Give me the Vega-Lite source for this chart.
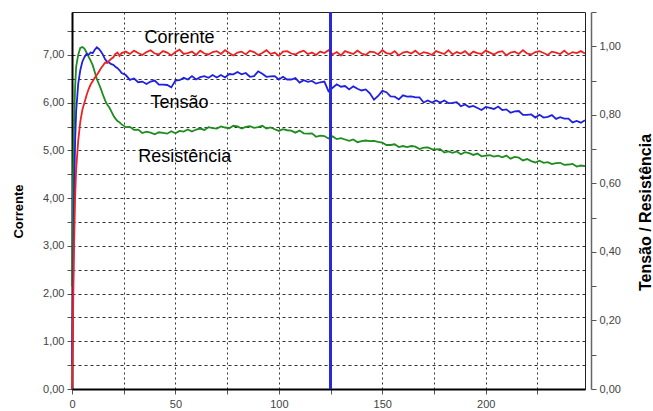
{
  "$schema": "https://vega.github.io/schema/vega-lite/v6.json",
  "width": 513,
  "height": 377,
  "autosize": {"type": "none"},
  "padding": {"left": 72, "top": 12, "right": 68, "bottom": 22},
  "background": "white",
  "config": {
    "view": {"stroke": "#222", "strokeWidth": 1},
    "axis": {"labelFont": "Liberation Sans", "labelFontSize": 11, "labelColor": "#444", "tickColor": "#555", "tickSize": 5, "titleFont": "Liberation Sans", "titleFontWeight": "bold", "titleColor": "#000"}
  },
  "data": {"values": [
    {"x":0,"corrente":0.0,"tensao":0.07,"resistencia":0.30},
    {"x":0.5,"corrente":1.6,"tensao":0.30,"resistencia":0.62},
    {"x":1,"corrente":3.0,"tensao":0.56,"resistencia":0.78},
    {"x":1.5,"corrente":4.0,"tensao":0.72,"resistencia":0.88},
    {"x":2,"corrente":4.6,"tensao":0.81,"resistencia":0.94},
    {"x":3,"corrente":5.2,"tensao":0.89,"resistencia":0.975},
    {"x":4,"corrente":5.6,"tensao":0.93,"resistencia":0.995},
    {"x":5,"corrente":5.85,"tensao":0.955,"resistencia":0.998},
    {"x":6,"corrente":6.0,"tensao":0.968,"resistencia":0.993},
    {"x":7,"corrente":6.15,"tensao":0.978,"resistencia":0.982},
    {"x":8,"corrente":6.28,"tensao":0.975,"resistencia":0.970},
    {"x":9,"corrente":6.38,"tensao":0.982,"resistencia":0.958},
    {"x":10,"corrente":6.45,"tensao":0.980,"resistencia":0.945},
    {"x":11,"corrente":6.52,"tensao":0.990,"resistencia":0.925},
    {"x":12,"corrente":6.58,"tensao":0.997,"resistencia":0.905},
    {"x":13,"corrente":6.65,"tensao":0.992,"resistencia":0.890},
    {"x":14,"corrente":6.72,"tensao":0.985,"resistencia":0.875},
    {"x":15,"corrente":6.78,"tensao":0.975,"resistencia":0.858},
    {"x":16,"corrente":6.84,"tensao":0.962,"resistencia":0.842},
    {"x":17,"corrente":6.83,"tensao":0.955,"resistencia":0.830},
    {"x":18,"corrente":6.88,"tensao":0.952,"resistencia":0.822},
    {"x":19,"corrente":6.92,"tensao":0.948,"resistencia":0.810},
    {"x":20,"corrente":6.95,"tensao":0.946,"resistencia":0.798},
    {"x":21,"corrente":7.02,"tensao":0.940,"resistencia":0.789},
    {"x":22,"corrente":7.05,"tensao":0.936,"resistencia":0.782},
    {"x":23,"corrente":6.98,"tensao":0.930,"resistencia":0.778},
    {"x":24,"corrente":7.04,"tensao":0.922,"resistencia":0.772},
    {"x":26,"corrente":7.07,"tensao":0.916,"resistencia":0.764},
    {"x":28,"corrente":7.02,"tensao":0.902,"resistencia":0.765},
    {"x":30,"corrente":7.09,"tensao":0.906,"resistencia":0.756},
    {"x":32,"corrente":7.04,"tensao":0.895,"resistencia":0.757},
    {"x":34,"corrente":7.00,"tensao":0.897,"resistencia":0.747},
    {"x":36,"corrente":7.06,"tensao":0.890,"resistencia":0.751},
    {"x":38,"corrente":7.10,"tensao":0.897,"resistencia":0.748},
    {"x":40,"corrente":7.03,"tensao":0.900,"resistencia":0.743},
    {"x":42,"corrente":7.01,"tensao":0.888,"resistencia":0.749},
    {"x":44,"corrente":7.08,"tensao":0.888,"resistencia":0.747},
    {"x":46,"corrente":7.05,"tensao":0.887,"resistencia":0.745},
    {"x":48,"corrente":6.99,"tensao":0.880,"resistencia":0.752},
    {"x":50,"corrente":7.06,"tensao":0.900,"resistencia":0.746},
    {"x":52,"corrente":7.11,"tensao":0.901,"resistencia":0.753},
    {"x":54,"corrente":7.02,"tensao":0.908,"resistencia":0.751},
    {"x":56,"corrente":7.04,"tensao":0.903,"resistencia":0.757},
    {"x":58,"corrente":7.07,"tensao":0.913,"resistencia":0.751},
    {"x":60,"corrente":7.00,"tensao":0.903,"resistencia":0.757},
    {"x":62,"corrente":7.09,"tensao":0.910,"resistencia":0.760},
    {"x":64,"corrente":7.03,"tensao":0.913,"resistencia":0.756},
    {"x":66,"corrente":7.01,"tensao":0.908,"resistencia":0.764},
    {"x":68,"corrente":7.06,"tensao":0.916,"resistencia":0.761},
    {"x":70,"corrente":7.08,"tensao":0.909,"resistencia":0.760},
    {"x":72,"corrente":7.02,"tensao":0.916,"resistencia":0.766},
    {"x":74,"corrente":7.10,"tensao":0.909,"resistencia":0.763},
    {"x":76,"corrente":7.04,"tensao":0.919,"resistencia":0.761},
    {"x":78,"corrente":6.99,"tensao":0.918,"resistencia":0.768},
    {"x":80,"corrente":7.05,"tensao":0.925,"resistencia":0.766},
    {"x":82,"corrente":7.07,"tensao":0.918,"resistencia":0.760},
    {"x":84,"corrente":7.01,"tensao":0.922,"resistencia":0.765},
    {"x":86,"corrente":7.09,"tensao":0.911,"resistencia":0.767},
    {"x":88,"corrente":7.06,"tensao":0.913,"resistencia":0.762},
    {"x":90,"corrente":7.00,"tensao":0.927,"resistencia":0.764},
    {"x":92,"corrente":7.04,"tensao":0.920,"resistencia":0.768},
    {"x":94,"corrente":7.10,"tensao":0.911,"resistencia":0.760},
    {"x":96,"corrente":7.02,"tensao":0.912,"resistencia":0.763},
    {"x":98,"corrente":7.05,"tensao":0.913,"resistencia":0.758},
    {"x":100,"corrente":6.98,"tensao":0.903,"resistencia":0.753},
    {"x":102,"corrente":7.07,"tensao":0.911,"resistencia":0.758},
    {"x":104,"corrente":7.08,"tensao":0.903,"resistencia":0.755},
    {"x":106,"corrente":7.03,"tensao":0.903,"resistencia":0.754},
    {"x":108,"corrente":7.01,"tensao":0.907,"resistencia":0.748},
    {"x":110,"corrente":7.06,"tensao":0.894,"resistencia":0.754},
    {"x":112,"corrente":7.09,"tensao":0.901,"resistencia":0.746},
    {"x":114,"corrente":7.02,"tensao":0.896,"resistencia":0.745},
    {"x":116,"corrente":7.05,"tensao":0.899,"resistencia":0.746},
    {"x":118,"corrente":7.00,"tensao":0.891,"resistencia":0.736},
    {"x":120,"corrente":7.07,"tensao":0.895,"resistencia":0.739},
    {"x":122,"corrente":7.04,"tensao":0.897,"resistencia":0.738},
    {"x":124,"corrente":7.10,"tensao":0.869,"resistencia":0.731},
    {"x":126,"corrente":7.01,"tensao":0.879,"resistencia":0.737},
    {"x":128,"corrente":7.06,"tensao":0.889,"resistencia":0.729},
    {"x":130,"corrente":6.99,"tensao":0.882,"resistencia":0.732},
    {"x":132,"corrente":7.08,"tensao":0.884,"resistencia":0.728},
    {"x":134,"corrente":7.05,"tensao":0.874,"resistencia":0.724},
    {"x":136,"corrente":7.02,"tensao":0.883,"resistencia":0.728},
    {"x":138,"corrente":7.09,"tensao":0.876,"resistencia":0.720},
    {"x":140,"corrente":7.03,"tensao":0.871,"resistencia":0.723},
    {"x":142,"corrente":7.00,"tensao":0.874,"resistencia":0.725},
    {"x":144,"corrente":7.07,"tensao":0.863,"resistencia":0.723},
    {"x":146,"corrente":7.06,"tensao":0.844,"resistencia":0.724},
    {"x":148,"corrente":7.01,"tensao":0.855,"resistencia":0.721},
    {"x":150,"corrente":7.10,"tensao":0.870,"resistencia":0.719},
    {"x":152,"corrente":7.04,"tensao":0.866,"resistencia":0.712},
    {"x":154,"corrente":7.02,"tensao":0.854,"resistencia":0.712},
    {"x":156,"corrente":7.08,"tensao":0.853,"resistencia":0.714},
    {"x":158,"corrente":6.99,"tensao":0.845,"resistencia":0.706},
    {"x":160,"corrente":7.05,"tensao":0.857,"resistencia":0.709},
    {"x":162,"corrente":7.07,"tensao":0.853,"resistencia":0.706},
    {"x":164,"corrente":7.03,"tensao":0.854,"resistencia":0.709},
    {"x":166,"corrente":7.09,"tensao":0.851,"resistencia":0.707},
    {"x":168,"corrente":7.01,"tensao":0.851,"resistencia":0.700},
    {"x":170,"corrente":7.06,"tensao":0.836,"resistencia":0.704},
    {"x":172,"corrente":7.04,"tensao":0.842,"resistencia":0.705},
    {"x":174,"corrente":7.00,"tensao":0.836,"resistencia":0.700},
    {"x":176,"corrente":7.08,"tensao":0.842,"resistencia":0.699},
    {"x":178,"corrente":7.05,"tensao":0.836,"resistencia":0.700},
    {"x":180,"corrente":7.02,"tensao":0.842,"resistencia":0.690},
    {"x":182,"corrente":7.10,"tensao":0.834,"resistencia":0.693},
    {"x":184,"corrente":7.01,"tensao":0.835,"resistencia":0.689},
    {"x":186,"corrente":7.06,"tensao":0.837,"resistencia":0.693},
    {"x":188,"corrente":7.03,"tensao":0.825,"resistencia":0.685},
    {"x":190,"corrente":7.08,"tensao":0.830,"resistencia":0.691},
    {"x":192,"corrente":7.00,"tensao":0.823,"resistencia":0.688},
    {"x":194,"corrente":7.07,"tensao":0.826,"resistencia":0.683},
    {"x":196,"corrente":7.04,"tensao":0.820,"resistencia":0.687},
    {"x":198,"corrente":7.02,"tensao":0.814,"resistencia":0.679},
    {"x":200,"corrente":7.09,"tensao":0.823,"resistencia":0.681},
    {"x":202,"corrente":7.05,"tensao":0.820,"resistencia":0.682},
    {"x":204,"corrente":7.01,"tensao":0.817,"resistencia":0.678},
    {"x":206,"corrente":7.06,"tensao":0.824,"resistencia":0.681},
    {"x":208,"corrente":7.08,"tensao":0.814,"resistencia":0.676},
    {"x":210,"corrente":6.99,"tensao":0.816,"resistencia":0.681},
    {"x":212,"corrente":7.05,"tensao":0.806,"resistencia":0.672},
    {"x":214,"corrente":7.07,"tensao":0.810,"resistencia":0.677},
    {"x":216,"corrente":7.02,"tensao":0.811,"resistencia":0.675},
    {"x":218,"corrente":7.10,"tensao":0.800,"resistencia":0.667},
    {"x":220,"corrente":7.03,"tensao":0.800,"resistencia":0.671},
    {"x":222,"corrente":7.01,"tensao":0.801,"resistencia":0.665},
    {"x":224,"corrente":7.06,"tensao":0.792,"resistencia":0.661},
    {"x":226,"corrente":7.08,"tensao":0.800,"resistencia":0.666},
    {"x":228,"corrente":7.04,"tensao":0.792,"resistencia":0.660},
    {"x":230,"corrente":7.00,"tensao":0.794,"resistencia":0.662},
    {"x":232,"corrente":7.07,"tensao":0.799,"resistencia":0.656},
    {"x":234,"corrente":7.05,"tensao":0.788,"resistencia":0.659},
    {"x":236,"corrente":7.02,"tensao":0.793,"resistencia":0.660},
    {"x":238,"corrente":7.09,"tensao":0.789,"resistencia":0.654},
    {"x":240,"corrente":7.01,"tensao":0.789,"resistencia":0.655},
    {"x":242,"corrente":7.06,"tensao":0.778,"resistencia":0.657},
    {"x":244,"corrente":7.04,"tensao":0.782,"resistencia":0.649},
    {"x":246,"corrente":7.08,"tensao":0.777,"resistencia":0.652},
    {"x":248,"corrente":7.03,"tensao":0.784,"resistencia":0.650}
  ]},
  "encoding": {
    "x": {"field": "x", "type": "quantitative", "title": null,
      "scale": {"domain": [0, 248], "nice": false, "zero": false},
      "axis": {"values": [0,25,50,75,100,125,150,175,200,225], "labelExpr": "datum.value % 50 == 0 ? datum.label : ''", "grid": true, "gridDash": [2,3], "gridColor": "#333", "gridWidth": 1, "domainColor": "#000", "domainWidth": 2, "labelPadding": 4, "labelFlush": false}}
  },
  "layer": [
    {"mark": {"type": "line", "color": "#1e8c1e", "strokeWidth": 1.8},
     "encoding": {"y": {"field": "resistencia", "type": "quantitative", "scale": {"domain": [0, 1.1], "nice": false}, "axis": null}}},
    {"mark": {"type": "line", "color": "#2020e0", "strokeWidth": 1.8},
     "encoding": {"y": {"field": "tensao", "type": "quantitative", "title": "Tensão / Resistência",
        "scale": {"domain": [0, 1.1], "nice": false},
        "axis": {"orient": "right", "offset": 6, "values": [0,0.1,0.2,0.3,0.4,0.5,0.6,0.7,0.8,0.9,1,1.1], "labelExpr": "round(datum.value*10) % 2 == 0 ? replace(format(datum.value, '.2f'), '.', ',') : ''", "grid": false, "domainColor": "#666", "domainWidth": 1.5, "labelPadding": 3, "titleFontSize": 16, "titleAngle": 270, "titleX": 54, "titleY": 200, "titleAlign": "center", "titleBaseline": "middle"}}}},
    {"mark": {"type": "line", "color": "#ee2222", "strokeWidth": 1.8},
     "encoding": {"y": {"field": "corrente", "type": "quantitative", "title": "Corrente",
        "scale": {"domain": [0, 7.9], "nice": false},
        "axis": {"orient": "left", "values": [0,0.5,1,1.5,2,2.5,3,3.5,4,4.5,5,5.5,6,6.5,7,7.5], "labelExpr": "datum.value % 1 == 0 ? replace(format(datum.value, '.2f'), '.', ',') : ''", "grid": true, "gridDash": [3,3], "gridColor": "#333", "gridWidth": 1, "domainColor": "#000", "domainWidth": 2, "labelPadding": 3, "titleFontSize": 13, "titleAngle": 270, "titleX": -54, "titleY": 199, "titleAlign": "center", "titleBaseline": "middle"}}}},
    {"mark": {"type": "rule", "color": "#2a2ad8", "strokeWidth": 2},
     "encoding": {"x": {"datum": 125, "type": "quantitative"}}},
    {"data": {"values": [
        {"rotulo": "Corrente", "x": 52, "y": 7.25},
        {"rotulo": "Tensão", "x": 52, "y": 5.89},
        {"rotulo": "Resistência", "x": 54.5, "y": 4.76}
      ]},
     "mark": {"type": "text", "font": "Liberation Sans", "fontSize": 18, "color": "#000", "align": "center", "baseline": "alphabetic"},
     "encoding": {"text": {"field": "rotulo"}, "y": {"field": "y", "type": "quantitative", "scale": {"domain": [0, 7.9], "nice": false}, "axis": null}}}
  ],
  "resolve": {"scale": {"y": "independent"}}
}
